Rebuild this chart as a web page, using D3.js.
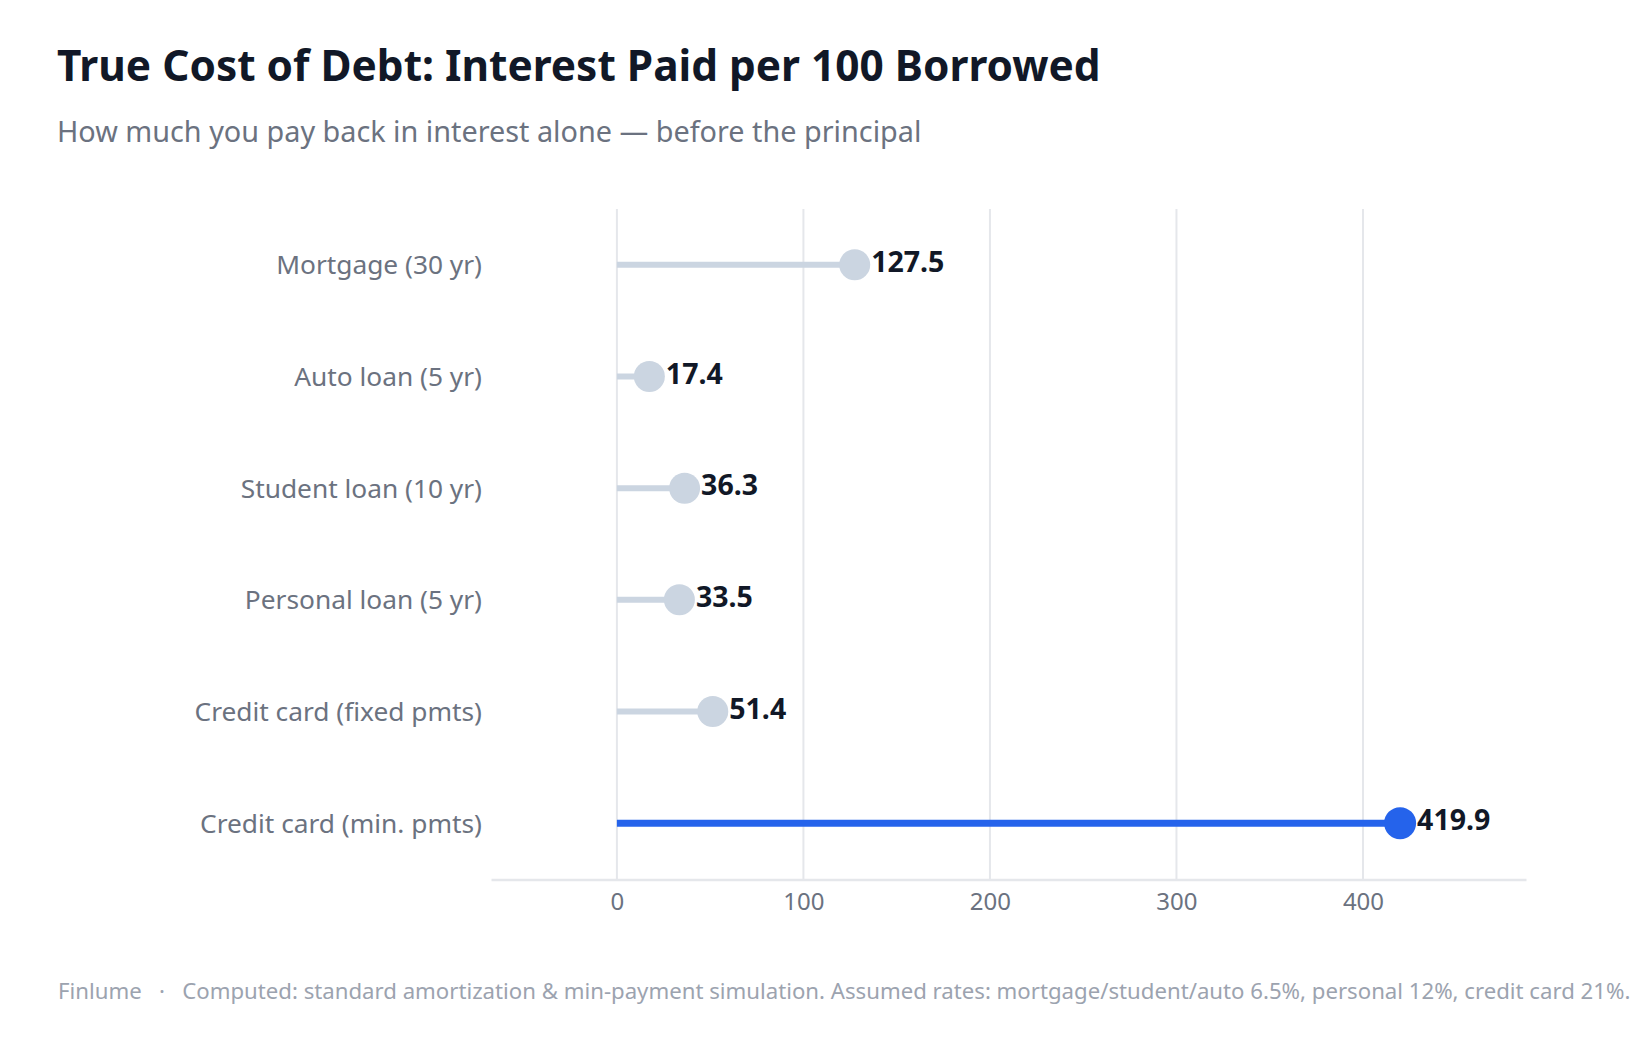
<!DOCTYPE html>
<html>
<head>
<meta charset="utf-8">
<script src="https://cdn.jsdelivr.net/npm/d3@7"></script>
<style>
  body { margin: 0; background: #fff; }
  svg { display: block; font-family: "Noto Sans", "Open Sans", sans-serif; }
</style>
</head>
<body>
<div id="container"></div>
<script>
const w = 1639;
const h = 1040;

// Data
const categories = [
  'Mortgage (30 yr)',
  'Auto loan (5 yr)',
  'Student loan (10 yr)',
  'Personal loan (5 yr)',
  'Credit card (fixed pmts)',
  'Credit card (min. pmts)'
];
const interest = [127.5, 17.4, 36.3, 33.5, 51.4, 419.9];
const highlighted = ['Credit card (min. pmts)'];
const xTicks = [0, 100, 200, 300, 400];
const xDomain = [-67.5, 487.4];

const plot = { left: 491, right: 1526, top: 209, bottom: 879 };
const grey = '#cbd5e1';
const blue = '#2563eb';

const dataset = categories.map((c, i) => ({ name: c, value: interest[i], hot: highlighted.includes(c) }));

const svg = d3.select('#container')
              .append('svg')
              .attr('width', w)
              .attr('height', h);

const xScale = d3.scaleLinear().domain(xDomain).range([plot.left, plot.right]);
const yScale = d3.scaleBand().domain(categories).range([plot.top, plot.bottom]).padding(0);
const cy = d => yScale(d.name) + yScale.bandwidth() / 2;

// Title + subtitle
svg.append('text')
   .attr('x', 57)
   .attr('y', 81)
   .attr('fill', '#111827')
   .style('font-size', '42.4px')
   .style('font-weight', 700)
   .text('True Cost of Debt: Interest Paid per 100 Borrowed');

svg.append('text')
   .attr('x', 57)
   .attr('y', 142)
   .attr('fill', '#6b7280')
   .style('font-size', '28.8px')
   .text('How much you pay back in interest alone \u2014 before the principal');

// Grid
const xAxis = d3.axisBottom(xScale).tickValues(xTicks).tickSize(0).tickPadding(13).tickFormat(d3.format('d'));
svg.append('g')
   .attr('class', 'grid')
   .selectAll('line')
   .data(xTicks)
   .enter()
   .append('line')
   .attr('x1', d => xScale(d))
   .attr('x2', d => xScale(d))
   .attr('y1', plot.top)
   .attr('y2', plot.bottom)
   .attr('stroke', '#e5e7eb')
   .attr('stroke-width', 2);

const gx = svg.append('g')
   .attr('id', 'x-axis')
   .attr('transform', `translate(0, ${plot.bottom + 0.5})`)
   .call(xAxis);
gx.select('.domain').attr('stroke', '#e5e7eb').attr('stroke-width', 2.5);
gx.selectAll('text')
  .attr('fill', '#6b7280')
  .style('font-size', '24px')
  .style('font-family', '"Noto Sans", sans-serif');

// Category labels
const gy = svg.append('g')
   .attr('id', 'y-axis')
   .attr('transform', `translate(482, 0)`)
   .call(d3.axisLeft(yScale).tickSize(0).tickPadding(0));
gy.select('.domain').remove();
gy.selectAll('text')
  .attr('fill', '#6b7280')
  .attr('dy', '0.36em')
  .style('font-size', '26.3px')
  .style('font-family', '"Noto Sans", sans-serif');

// Lollipops
const rows = svg.selectAll('.row')
   .data(dataset)
   .enter()
   .append('g')
   .attr('class', 'row');

rows.append('line')
    .attr('x1', xScale(0))
    .attr('x2', d => xScale(d.value))
    .attr('y1', cy)
    .attr('y2', cy)
    .attr('stroke', d => d.hot ? blue : grey)
    .attr('stroke-width', d => d.hot ? 7 : 6);

rows.append('circle')
    .attr('cx', d => xScale(d.value))
    .attr('cy', cy)
    .attr('r', d => d.hot ? 16 : 15.5)
    .attr('fill', d => d.hot ? blue : grey);

rows.append('text')
    .attr('x', d => xScale(d.value) + (d.hot ? 16 : 15.5) + 1)
    .attr('y', d => cy(d) + 7)
    .attr('fill', '#111827')
    .style('font-size', '28.5px')
    .style('font-weight', 700)
    .text(d => d.value.toFixed(1));

// Footer
svg.append('text')
   .attr('x', 58)
   .attr('y', 999)
   .attr('fill', '#9ca3af')
   .style('font-size', '22.2px')
   .attr('xml:space', 'preserve')
   .text('Finlume   \u00b7   Computed: standard amortization & min-payment simulation. Assumed rates: mortgage/student/auto 6.5%, personal 12%, credit card 21%.');
</script>
</body>
</html>
